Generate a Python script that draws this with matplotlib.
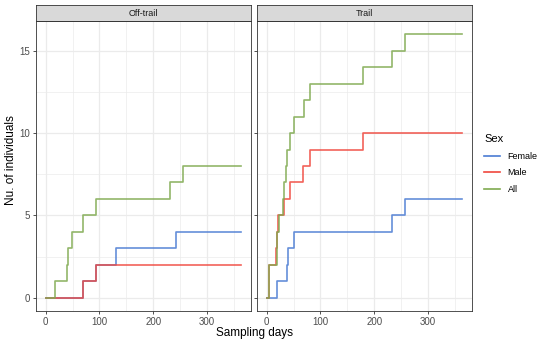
#!/usr/bin/env python3
"""Cumulative number of individuals by sampling day, faceted by trail."""

import matplotlib
matplotlib.use("Agg")
import matplotlib.pyplot as plt
from matplotlib.lines import Line2D

plt.rcParams["font.family"] = ["Liberation Sans", "DejaVu Sans"]

panels = ["Off-trail", "Trail"]
sexes = ["Female", "Male", "All"]
colors = {"Female": "#4A7BD3", "Male": "#F0473D", "All": "#7FAA4F"}

# step data: (days, cumulative count)
off_female_days = [0, 70, 93, 131, 242, 364]
off_female_n = [0, 1, 2, 3, 4, 4]
off_male_days = [0, 70, 93, 364]
off_male_n = [0, 1, 2, 2]
off_all_days = [0, 17, 39, 42, 49, 69, 94, 232, 255, 364]
off_all_n = [0, 1, 2, 3, 4, 5, 6, 7, 8, 8]

tr_female_days = [0, 19, 38, 40, 50, 234, 257, 364]
tr_female_n = [0, 1, 2, 3, 4, 5, 6, 6]
tr_male_days = [0, 4, 18, 19, 21, 32, 44, 68, 80, 180, 364]
tr_male_n = [0, 2, 3, 4, 5, 6, 7, 8, 9, 10, 10]
tr_all_days = [0, 4, 19, 22, 30, 33, 36, 38, 43, 51, 69, 80, 180, 234, 257, 364]
tr_all_n = [0, 2, 4, 5, 6, 7, 8, 9, 10, 11, 12, 13, 14, 15, 16, 16]

data = {
    "Off-trail": {
        "Female": (off_female_days, off_female_n),
        "Male": (off_male_days, off_male_n),
        "All": (off_all_days, off_all_n),
    },
    "Trail": {
        "Female": (tr_female_days, tr_female_n),
        "Male": (tr_male_days, tr_male_n),
        "All": (tr_all_days, tr_all_n),
    },
}

W, H = 550, 342
fig = plt.figure(figsize=(W / 100, H / 100), dpi=100)

grid_col = "#EBEBEB"
border_col = "#333333"
tick_col = "#4D4D4D"

lefts = [36, 257]
pw, top, bottom = 215, 21, 311
strip_h = 16

for i, (panel, left) in enumerate(zip(panels, lefts)):
    ax = fig.add_axes([left / W, (H - bottom) / H, pw / W, (bottom - top) / H])
    ax.set_xlim(-18.2, 382.2)
    ax.set_ylim(-0.8, 16.8)
    ax.set_xticks([0, 100, 200, 300])
    ax.set_xticks([50, 150, 250, 350], minor=True)
    ax.set_yticks([0, 5, 10, 15])
    ax.set_yticks([2.5, 7.5, 12.5], minor=True)
    ax.grid(True, which="major", color=grid_col, lw=0.9)
    ax.grid(True, which="minor", color=grid_col, lw=0.5)
    ax.set_axisbelow(True)
    for s in ax.spines.values():
        s.set_color(border_col)
        s.set_linewidth(0.6)
    ax.tick_params(which="major", length=2.5, width=0.6, color=border_col,
                   labelsize=7, labelcolor=tick_col, pad=2)
    ax.tick_params(which="minor", length=0)
    if i > 0:
        ax.tick_params(labelleft=False)

    for sex in sexes:
        days, n = data[panel][sex]
        ax.step(days, n, where="post", color=colors[sex], lw=1.2, alpha=0.85)

    sax = fig.add_axes([left / W, (H - top) / H, pw / W, strip_h / H])
    sax.set_facecolor("#D9D9D9")
    sax.set_xticks([])
    sax.set_yticks([])
    for s in sax.spines.values():
        s.set_color(border_col)
        s.set_linewidth(0.6)
    sax.text(0.5, 0.5, panel, ha="center", va="center", fontsize=6.5,
             color="#1A1A1A", transform=sax.transAxes)

fig.text(11 / W, 1 - 160 / H, "Nu. of individuals", rotation=90,
         ha="center", va="center", fontsize=8.5)
fig.text(254 / W, 1 - 333 / H, "Sampling days", ha="center", va="center",
         fontsize=8.5)

handles = [Line2D([], [], color=colors[s], lw=1.2) for s in sexes]
leg = fig.legend(handles, sexes, title="Sex", loc="upper left",
                 bbox_to_anchor=(476 / W, 1 - 126 / H), frameon=False,
                 fontsize=6.5, title_fontsize=8, handlelength=1.8,
                 handletextpad=0.8, labelspacing=0.85)
leg._legend_box.align = "left"

fig.savefig("out.png", dpi=100)
